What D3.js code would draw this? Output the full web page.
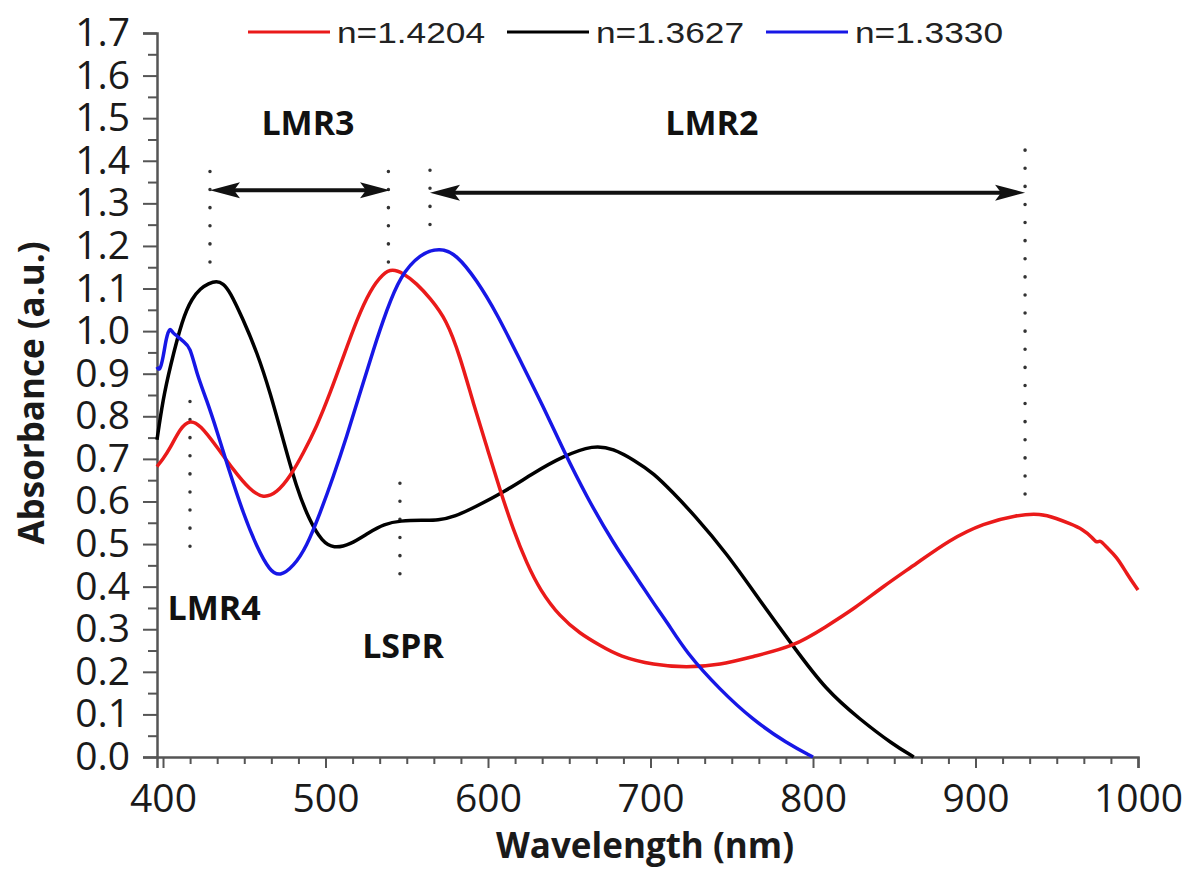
<!DOCTYPE html>
<html>
<head>
<meta charset="utf-8">
<script src="https://cdn.jsdelivr.net/npm/d3@7"></script>
<style>
  body { margin: 0; background: #fff; }
</style>
</head>
<body>
<div id="chart"></div>
<script>
// Spectra: wavelength (nm) and absorbance (a.u.)
const redNm  = [396.3, 400, 404.3, 410.5, 416.6, 422.8, 433, 443.3, 453.5, 461.7, 470, 478.2, 486.3, 494.6, 502.8, 511, 519.2, 527.4, 535.6, 541, 548, 556, 564.3, 574.6, 582.8, 591, 599.2, 607.4, 615.6, 623.8, 632, 644.3, 656.6, 668.9, 681, 702, 722, 743, 763, 788, 808, 826, 843, 864, 884, 905, 925, 940, 950, 958, 966, 972, 974.6, 976.6, 980, 987, 993, 1000];
const redAbs = [0.682, 0.70, 0.724, 0.772, 0.792, 0.78, 0.729, 0.674, 0.627, 0.607, 0.62, 0.658, 0.713, 0.776, 0.854, 0.94, 1.026, 1.096, 1.136, 1.146, 1.136, 1.112, 1.078, 1.026, 0.94, 0.83, 0.729, 0.627, 0.533, 0.455, 0.392, 0.329, 0.29, 0.262, 0.236, 0.216, 0.21, 0.216, 0.236, 0.259, 0.306, 0.35, 0.40, 0.455, 0.51, 0.549, 0.568, 0.572, 0.56, 0.548, 0.535, 0.515, 0.502, 0.51, 0.495, 0.47, 0.431, 0.392];

const blackNm  = [396.3, 400, 404.3, 412, 418, 423, 428, 433, 437, 441, 449, 458, 466, 474, 482, 490, 498, 505, 515, 527, 536, 546, 560, 569, 580, 591, 609, 628, 646, 665, 677, 690, 702, 714, 726, 747, 767, 788, 808, 829, 849, 862];
const blackAbs = [0.745, 0.84, 0.915, 1.03, 1.078, 1.1, 1.112, 1.118, 1.112, 1.094, 1.03, 0.949, 0.855, 0.744, 0.634, 0.556, 0.505, 0.49, 0.498, 0.528, 0.547, 0.555, 0.556, 0.555, 0.565, 0.585, 0.62, 0.667, 0.706, 0.733, 0.724, 0.697, 0.666, 0.62, 0.572, 0.478, 0.369, 0.259, 0.157, 0.088, 0.03, 0.0];

const blueNm  = [396.3, 398, 400.2, 402, 404.3, 406, 408.4, 412.5, 416.6, 420.7, 426.9, 433, 441.2, 449.4, 457.6, 465.8, 472, 480.2, 488.4, 496.6, 504.8, 513, 521.2, 529.4, 537.7, 545.8, 558.2, 570.5, 580.7, 593, 605.4, 619.7, 634, 646.3, 660.7, 677.1, 693.5, 702, 710, 722, 743, 763, 784, 800];
const blueAbs = [0.916, 0.905, 0.94, 0.985, 1.01, 0.995, 0.99, 0.975, 0.965, 0.90, 0.838, 0.768, 0.666, 0.572, 0.494, 0.436, 0.424, 0.447, 0.494, 0.572, 0.658, 0.752, 0.854, 0.956, 1.05, 1.128, 1.182, 1.196, 1.18, 1.12, 1.042, 0.932, 0.823, 0.721, 0.611, 0.502, 0.41, 0.36, 0.318, 0.245, 0.157, 0.087, 0.032, 0.0];

const seriesNames  = ["n=1.4204", "n=1.3627", "n=1.3330"];
const seriesColors = ["#ea1a1a", "#000000", "#1717e6"];

const xTickValues = [400, 500, 600, 700, 800, 900, 1000];
const yTickValues = [0, 0.1, 0.2, 0.3, 0.4, 0.5, 0.6, 0.7, 0.8, 0.9, 1.0, 1.1, 1.2, 1.3, 1.4, 1.5, 1.6, 1.7];

// Peak markers (dotted verticals): wavelength, bottom and top absorbance
const markerNm  = [428.9, 538.7, 564.3, 930.5, 416.6, 545.8];
const markerLow = [1.15, 1.16, 1.21, 0.60, 0.455, 0.388];
const markerTop = [1.375, 1.375, 1.378, 1.425, 0.835, 0.643];

// Double arrows between peaks
const arrowFrom = [428.9, 564.3];
const arrowTo   = [539.7, 930.5];
const arrowAbs  = [1.331, 1.325];

// Mode labels
const labelText = ["LMR3", "LMR2", "LMR4", "LSPR"];
const labelNm   = [489.2, 737.8, 431.4, 547.7];
const labelAbs  = [1.46, 1.46, 0.322, 0.232];

const W = 1189, H = 870;
const margin = { top: 33, right: 51, bottom: 113, left: 157 };
const width = W - margin.left - margin.right;
const height = H - margin.top - margin.bottom;

const svg = d3.select("#chart").append("svg")
    .attr("width", W).attr("height", H)
    .style("background", "#fff");

const g = svg.append("g")
    .attr("transform", `translate(${margin.left},${margin.top})`);

const x = d3.scaleLinear().domain([396.3, 1000]).range([0, width]);
const y = d3.scaleLinear().domain([0, 1.7]).range([height, 0]);

const axisColor = "#555";
const tickFont = "'Open Sans', sans-serif";

// minor ticks
const xMinor = d3.range(400, 1000.01, 100 / 6).filter(v => Math.abs(v / 100 - Math.round(v / 100)) > 0.01);
const yMinor = d3.range(0.05, 1.7, 0.1);

const xMinorG = g.append("g").attr("transform", `translate(0,${height})`)
    .call(d3.axisBottom(x).tickValues(xMinor).tickSize(7).tickFormat(""));
const yMinorG = g.append("g")
    .call(d3.axisLeft(y).tickValues(yMinor).tickSize(9).tickFormat(""));
[xMinorG, yMinorG].forEach(a => {
    a.select(".domain").remove();
    a.selectAll("line").attr("stroke", axisColor).attr("stroke-width", 2);
});

// major axes
const xAxis = g.append("g").attr("transform", `translate(0,${height})`)
    .call(d3.axisBottom(x).tickValues(xTickValues).tickSize(11).tickPadding(16).tickFormat(d3.format("d")));
const yAxis = g.append("g")
    .call(d3.axisLeft(y).tickValues(yTickValues).tickSize(14).tickPadding(13).tickFormat(d3.format(".1f")));

[xAxis, yAxis].forEach(a => {
    a.select(".domain").attr("stroke", axisColor).attr("stroke-width", 2.5);
    a.selectAll(".tick line").attr("stroke", axisColor).attr("stroke-width", 2);
    a.selectAll(".tick text")
        .attr("fill", "#1a1a1a")
        .style("font-family", tickFont)
        .style("font-size", "39px");
});

// axis titles
svg.append("text")
    .attr("x", 645).attr("y", 858)
    .attr("text-anchor", "middle")
    .style("font-family", tickFont).style("font-weight", "bold").style("font-size", "35px")
    .attr("fill", "#1a1a1a")
    .text("Wavelength (nm)");

svg.append("text")
    .attr("transform", "translate(44,393) rotate(-90)")
    .attr("text-anchor", "middle")
    .style("font-family", tickFont).style("font-weight", "bold").style("font-size", "35px")
    .attr("fill", "#1a1a1a")
    .text("Absorbance (a.u.)");

// dotted marker lines
g.selectAll(".marker")
    .data(markerNm)
    .join("line")
    .attr("class", "marker")
    .attr("x1", d => x(d)).attr("x2", d => x(d))
    .attr("y1", (d, i) => y(markerTop[i]))
    .attr("y2", (d, i) => y(markerLow[i]))
    .attr("stroke", "#333")
    .attr("stroke-width", 3.5)
    .attr("stroke-linecap", "round")
    .attr("stroke-dasharray", "0.1 18");

// spectra
const series = [
    { name: seriesNames[0], color: seriesColors[0], nm: redNm, abs: redAbs },
    { name: seriesNames[1], color: seriesColors[1], nm: blackNm, abs: blackAbs },
    { name: seriesNames[2], color: seriesColors[2], nm: blueNm, abs: blueAbs }
];

const line = d3.line()
    .x(d => x(d[0]))
    .y(d => y(d[1]))
    .curve(d3.curveBasis);

// draw order: black under red under blue like the original
[1, 0, 2].forEach(i => {
    const s = series[i];
    g.append("path")
        .datum(s.nm.map((v, j) => [v, s.abs[j]]))
        .attr("fill", "none")
        .attr("stroke", s.color)
        .attr("stroke-width", 3.5)
        .attr("stroke-linejoin", "round")
        .attr("d", line);
});

// double arrows
function arrowHead(px, py, dir) {
    const len = 30, half = 8, notch = 6;
    return [[px, py], [px - dir * len, py - half], [px - dir * (len - notch), py], [px - dir * len, py + half]];
}
arrowFrom.forEach((a, i) => {
    const x0 = x(a), x1 = x(arrowTo[i]), yy = y(arrowAbs[i]);
    g.append("line")
        .attr("x1", x0 + 10).attr("x2", x1 - 10)
        .attr("y1", yy).attr("y2", yy)
        .attr("stroke", "#111").attr("stroke-width", 4);
    g.append("polygon").attr("points", arrowHead(x1, yy, 1).join(" ")).attr("fill", "#111");
    g.append("polygon").attr("points", arrowHead(x0, yy, -1).join(" ")).attr("fill", "#111");
});

// mode labels
g.selectAll(".mode")
    .data(labelText)
    .join("text")
    .attr("class", "mode")
    .attr("x", (d, i) => x(labelNm[i]))
    .attr("y", (d, i) => y(labelAbs[i]))
    .attr("text-anchor", "middle")
    .style("font-family", tickFont).style("font-weight", "bold").style("font-size", "34px")
    .attr("fill", "#111")
    .text(d => d);

// legend across the top
const legend = svg.selectAll(".legend")
    .data(series)
    .join("g")
    .attr("class", "legend")
    .attr("transform", (d, i) => `translate(${248 + i * 259},32)`);

legend.append("line")
    .attr("x1", 0).attr("x2", 82)
    .attr("stroke", d => d.color).attr("stroke-width", 3.2);

legend.append("text")
    .attr("x", 89).attr("y", 11)
    .attr("textLength", 148).attr("lengthAdjust", "spacingAndGlyphs")
    .style("font-family", "'Liberation Sans', Arial, sans-serif").style("font-size", "29px")
    .attr("fill", "#222")
    .text(d => d.name);
</script>
</body>
</html>
